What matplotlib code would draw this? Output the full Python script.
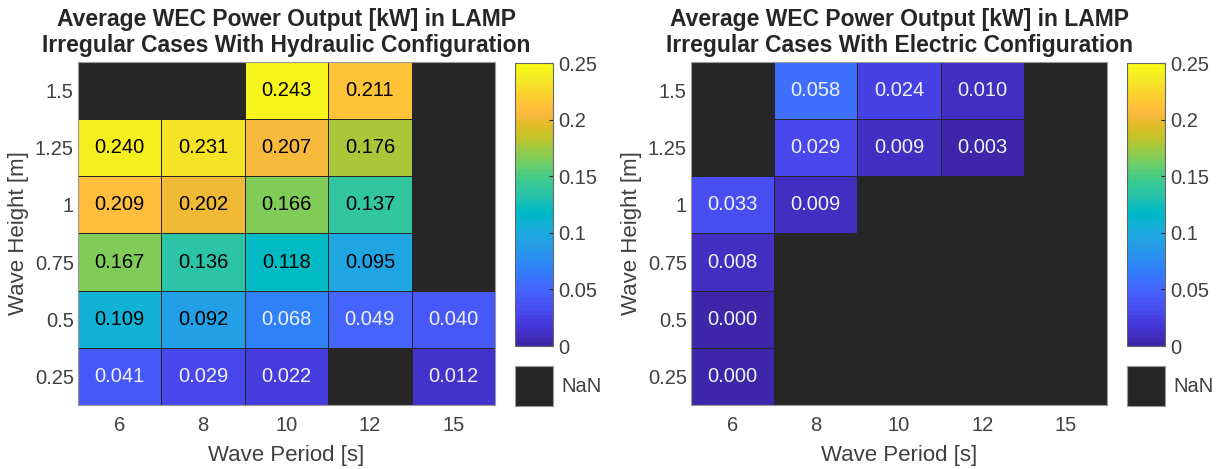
import numpy as np
import matplotlib.pyplot as plt
from matplotlib.colors import ListedColormap

# Wave periods (columns) and wave heights (rows, top to bottom)
periods = ["6", "8", "10", "12", "15"]
heights = ["1.5", "1.25", "1", "0.75", "0.5", "0.25"]

nan = np.nan
hydraulic = [
    [nan, nan, 0.243, 0.211, nan],
    [0.240, 0.231, 0.207, 0.176, nan],
    [0.209, 0.202, 0.166, 0.137, nan],
    [0.167, 0.136, 0.118, 0.095, nan],
    [0.109, 0.092, 0.068, 0.049, 0.040],
    [0.041, 0.029, 0.022, nan, 0.012],
]
electric = [
    [nan, 0.058, 0.024, 0.010, nan],
    [nan, 0.029, 0.009, 0.003, nan],
    [0.033, 0.009, nan, nan, nan],
    [0.008, nan, nan, nan, nan],
    [0.000, nan, nan, nan, nan],
    [0.000, nan, nan, nan, nan],
]
titles = [
    "Average WEC Power Output [kW] in LAMP\nIrregular Cases With Hydraulic Configuration",
    "Average WEC Power Output [kW] in LAMP\nIrregular Cases With Electric Configuration",
]
cbar_ticks = [0, 0.05, 0.1, 0.15, 0.2, 0.25]
cbar_labels = ["0", "0.05", "0.1", "0.15", "0.2", "0.25"]

# MATLAB parula, 64 colours
parula = ListedColormap([
    (0.2422, 0.1504, 0.6603), (0.2504, 0.1650, 0.7076), (0.2578, 0.1818, 0.7511), (0.2647, 0.1978, 0.7952),
    (0.2706, 0.2147, 0.8364), (0.2751, 0.2342, 0.8710), (0.2783, 0.2559, 0.8991), (0.2803, 0.2782, 0.9221),
    (0.2813, 0.3006, 0.9414), (0.2810, 0.3228, 0.9579), (0.2795, 0.3447, 0.9717), (0.2760, 0.3667, 0.9829),
    (0.2699, 0.3892, 0.9906), (0.2602, 0.4123, 0.9952), (0.2440, 0.4358, 0.9988), (0.2206, 0.4603, 0.9973),
    (0.1963, 0.4847, 0.9892), (0.1834, 0.5074, 0.9798), (0.1786, 0.5289, 0.9682), (0.1764, 0.5499, 0.9520),
    (0.1687, 0.5703, 0.9359), (0.1540, 0.5902, 0.9218), (0.1460, 0.6091, 0.9079), (0.1380, 0.6276, 0.8973),
    (0.1248, 0.6459, 0.8883), (0.1113, 0.6635, 0.8763), (0.0952, 0.6798, 0.8598), (0.0689, 0.6948, 0.8394),
    (0.0297, 0.7082, 0.8163), (0.0036, 0.7203, 0.7917), (0.0067, 0.7312, 0.7660), (0.0433, 0.7411, 0.7394),
    (0.0964, 0.7500, 0.7120), (0.1408, 0.7584, 0.6842), (0.1717, 0.7670, 0.6554), (0.1938, 0.7758, 0.6251),
    (0.2161, 0.7843, 0.5923), (0.2470, 0.7918, 0.5567), (0.2906, 0.7973, 0.5188), (0.3406, 0.8008, 0.4789),
    (0.3909, 0.8029, 0.4354), (0.4456, 0.8024, 0.3909), (0.5044, 0.7993, 0.3480), (0.5616, 0.7942, 0.3045),
    (0.6174, 0.7876, 0.2612), (0.6720, 0.7793, 0.2227), (0.7242, 0.7698, 0.1910), (0.7738, 0.7598, 0.1646),
    (0.8203, 0.7498, 0.1535), (0.8634, 0.7406, 0.1596), (0.9035, 0.7330, 0.1774), (0.9393, 0.7288, 0.2100),
    (0.9728, 0.7298, 0.2394), (0.9956, 0.7434, 0.2371), (0.9970, 0.7659, 0.2199), (0.9952, 0.7893, 0.2028),
    (0.9892, 0.8136, 0.1885), (0.9786, 0.8386, 0.1766), (0.9676, 0.8639, 0.1643), (0.9610, 0.8890, 0.1537),
    (0.9597, 0.9135, 0.1423), (0.9628, 0.9373, 0.1265), (0.9691, 0.9606, 0.1064), (0.9769, 0.9839, 0.0805),
], name="parula")

plt.rcParams['font.family'] = ['Liberation Sans', 'DejaVu Sans']
NAN_COLOR = (0.15, 0.15, 0.15)
TXT = (0.15, 0.15, 0.15)
LBL = (0.25, 0.25, 0.25)
VMIN, VMAX = 0.0, 0.25

fig = plt.figure(figsize=(12.25, 4.69), dpi=100)
W, H = 1225, 469

def box(x0, y0, x1, y1):
    # pixel box -> figure fraction [left, bottom, width, height]
    return [x0 / W, 1 - y1 / H, (x1 - x0) / W, (y1 - y0) / H]

layouts = [
    dict(ax=(78, 62, 495, 405), cb=(515, 63, 553, 346), nb=(515, 366, 553, 406)),
    dict(ax=(691, 62, 1107, 405), cb=(1127, 63, 1165, 346), nb=(1127, 366, 1165, 406)),
]

for data, title, lay in zip([hydraulic, electric], titles, layouts):
    arr = np.ma.masked_invalid(np.array(data, dtype=float))
    ax = fig.add_axes(box(*lay['ax']))
    ax.set_facecolor(NAN_COLOR)
    mesh = ax.pcolormesh(arr, cmap=parula, vmin=VMIN, vmax=VMAX,
                         edgecolors=NAN_COLOR, linewidth=0.7)
    ax.set_xlim(0, len(periods))
    ax.set_ylim(len(heights), 0)
    nrow, ncol = arr.shape
    for i in range(nrow):
        for j in range(ncol):
            v = arr[i, j]
            if np.ma.is_masked(v):
                continue
            r, g, b, _ = parula((v - VMIN) / (VMAX - VMIN))
            lum = 0.299 * r + 0.587 * g + 0.114 * b
            col = 'black' if lum > 0.5 else (0.94, 0.94, 0.94)
            ax.text(j + 0.5, i + 0.5, "%.3f" % v, ha='center', va='center',
                    fontsize=14.5, color=col)
    ax.set_xticks(np.arange(ncol) + 0.5)
    ax.set_xticklabels(periods)
    ax.set_yticks(np.arange(nrow) + 0.5)
    ax.set_yticklabels(heights)
    ax.tick_params(length=0, labelsize=14.5, labelcolor=LBL)
    ax.tick_params(axis='x', pad=8)
    ax.tick_params(axis='y', pad=3)
    for s in ax.spines.values():
        s.set_color('0.6')
        s.set_linewidth(0.8)
    ax.set_xlabel("Wave Period [s]", fontsize=16, color=LBL, labelpad=7)
    ax.set_ylabel("Wave Height [m]", fontsize=16, color=LBL, labelpad=4)
    ax.set_title(title, fontsize=16.5, fontweight='bold', color=TXT, pad=7, linespacing=1.2)

    cax = fig.add_axes(box(*lay['cb']))
    cb = fig.colorbar(mesh, cax=cax, ticks=cbar_ticks)
    cb.ax.set_yticklabels(cbar_labels)
    cb.ax.tick_params(direction='in', length=3, width=0.8, labelsize=14.5,
                      labelcolor=LBL, color=TXT, pad=4)
    cb.outline.set_edgecolor('0.4')
    cb.outline.set_linewidth(0.8)

    nax = fig.add_axes(box(*lay['nb']))
    nax.set_facecolor(NAN_COLOR)
    nax.set_xticks([])
    nax.set_yticks([])
    for s in nax.spines.values():
        s.set_color('0.6')
    nax.text(1.22, 0.5, "NaN", transform=nax.transAxes, ha='left', va='center',
             fontsize=14.5, color=LBL)

fig.savefig("out.png", dpi=100)
